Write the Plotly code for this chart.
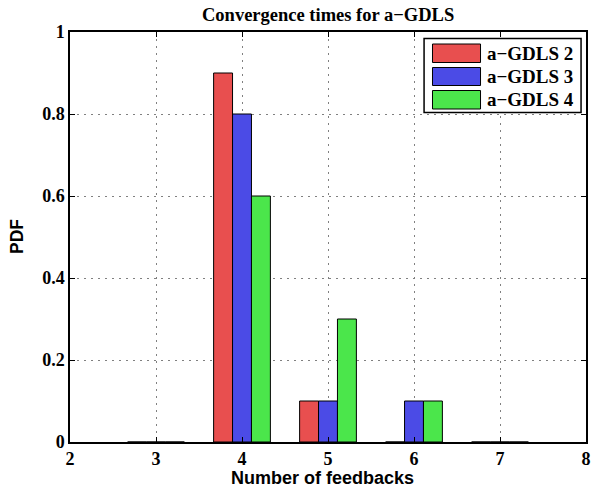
import plotly.graph_objects as go

feedbacks = [3, 4, 5, 6, 7]
series_names = ["a\u2212GDLS 2", "a\u2212GDLS 3", "a\u2212GDLS 4"]
pdf_gdls2 = [0.0, 0.9, 0.1, 0.0, 0.0]
pdf_gdls3 = [0.0, 0.8, 0.1, 0.1, 0.0]
pdf_gdls4 = [0.0, 0.6, 0.3, 0.1, 0.0]
colors = ["#E84F4F", "#4B4BE6", "#4BE64B"]
x_ticks = [2, 3, 4, 5, 6, 7, 8]
y_ticks = [0, 0.2, 0.4, 0.6, 0.8, 1]
y_tick_labels = ["0", "0.2", "0.4", "0.6", "0.8", "1"]

serif = "Liberation Serif, Times New Roman, serif"
sans = "Liberation Sans, Arial, sans-serif"

fig = go.Figure()
for name, vals, c in zip(series_names, [pdf_gdls2, pdf_gdls3, pdf_gdls4], colors):
    fig.add_trace(go.Bar(x=feedbacks, y=vals, name=name, marker=dict(color=c, line=dict(color="black", width=1)),
                         showlegend=False))

W, H = 595, 494
L, R, T, B = 70, 4, 32, 52

fig.update_layout(
    width=W, height=H,
    margin=dict(l=L, r=R, t=T, b=B),
    paper_bgcolor="white", plot_bgcolor="white",
    barmode="group", bargap=0.34, bargroupgap=0,
    font=dict(family=serif, size=17, color="black"),
)
axis_common = dict(showline=True, linecolor="black", linewidth=1.5, mirror="ticks",
                   ticks="inside", ticklen=5, tickcolor="black", tickwidth=1,
                   showgrid=True, gridcolor="#808080", griddash="2px,5px", gridwidth=1,
                   zeroline=False, tickfont=dict(family=serif, size=18, color="black"))
fig.update_xaxes(range=[2, 8], tickvals=x_ticks, ticktext=[f"<b>{t}</b>" for t in x_ticks], **axis_common)
fig.update_yaxes(range=[0, 1], tickvals=y_ticks, ticktext=[f"<b>{t}</b>" for t in y_tick_labels], **axis_common)

ann = []
ann.append(dict(text="<b>Convergence times for a\u2212GDLS</b>", x=0.5, y=1, xref="paper", yref="paper",
                xanchor="center", yanchor="bottom", yshift=5, showarrow=False,
                font=dict(family=serif, size=18.5, color="black")))
ann.append(dict(text="<b>Number of feedbacks</b>", x=0.5, y=0, xref="paper", yref="paper",
                xanchor="center", yanchor="top", yshift=-24, xshift=-6, showarrow=False,
                font=dict(family=sans, size=18, color="black")))
ann.append(dict(text="<b>PDF</b>", x=0, y=0.5, xref="paper", yref="paper", textangle=-90,
                xanchor="right", yanchor="middle", xshift=-41, showarrow=False,
                font=dict(family=sans, size=17.5, color="black")))

# manual legend in pixel coordinates converted to paper coordinates
pw, ph = W - L - R, H - T - B
def px(x): return (x - L) / pw
def py(y): return 1 - (y - T) / ph

shapes = [dict(type="rect", xref="paper", yref="paper", x0=px(427.5), x1=px(586), y0=py(112.5), y1=py(38.5),
               line=dict(color="black", width=1.5), fillcolor="white", layer="above")]
rows = [(44, 62.5), (67.5, 85.5), (90.5, 109)]
for (y0, y1), name, c in zip(rows, series_names, colors):
    shapes.append(dict(type="rect", xref="paper", yref="paper", x0=px(436), x1=px(484.5), y0=py(y1), y1=py(y0),
                       line=dict(color="black", width=1), fillcolor=c, layer="above"))
    ann.append(dict(text=f"<b>{name}</b>", x=px(489), y=py((y0 + y1) / 2), xref="paper", yref="paper",
                    xanchor="left", yanchor="middle", showarrow=False,
                    font=dict(family=serif, size=19, color="black")))
fig.update_layout(annotations=ann, shapes=shapes)

fig.write_html("out.html")
